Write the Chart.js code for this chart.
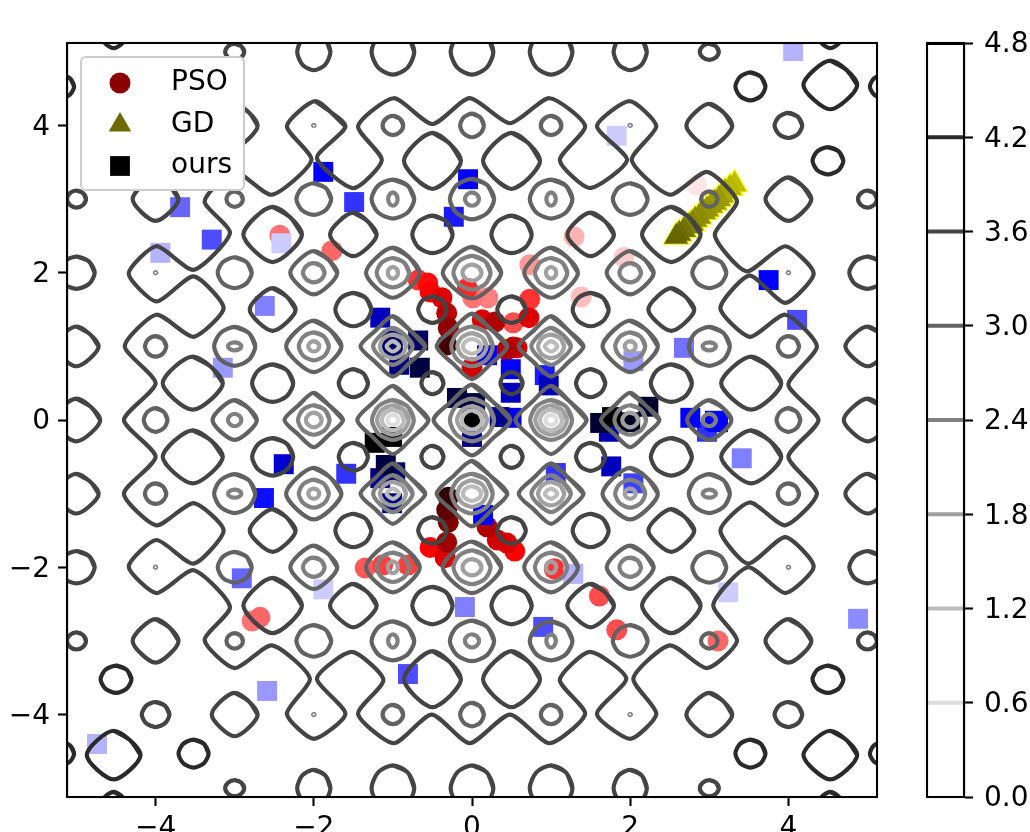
<!DOCTYPE html>
<html>
<head>
<meta charset="utf-8">
<style>
  html, body { margin: 0; background: #fff; overflow: hidden; }
  canvas { position: absolute; top: 0; }
  #main { left: 0; }
  #bar { left: 900px; }
</style>
<script src="https://cdn.jsdelivr.net/npm/chart.js@4/dist/chart.umd.min.js"></script>
</head>
<body>
<canvas id="main" width="900" height="832"></canvas>
<canvas id="bar" width="130" height="832"></canvas>
<script>
const axisMin = -5.12;
const axisMax = 5.12;
const xTicks = [-4, -2, 0, 2, 4];
const yTicks = [-4, -2, 0, 2, 4];
const barTicks = [0, 0.6, 1.2, 1.8, 2.4, 3.0, 3.6, 4.2, 4.8];
const barLevels = [0.6, 1.2, 1.8, 2.4, 3.0, 3.6, 4.2, 4.8];

const seriesNames = ['PSO', 'GD', 'ours'];

// shade: 0..1 goes white to full colour, 1..2 goes full colour to black
const psoX = [2.84, -2.43, -1.77, 1.29, 1.92, 0.73, 1.38, 0.73, -0.68, -0.56, -0.53, -0.38, -0.32, -0.3, -0.32,
  -0.06, 0.01, 0.2, 0.13, 0.29, 0.52, 0.72, 0.52, 0.44, 0.57, 0,
  -0.3, -0.32, -0.3, -0.32, -0.53, -0.34, -1.35, -1.13, -0.81, -2.78, -2.68,
  0.19, 0.32, 0.44, 0.54, 1.04, 1.61, 1.83, 3.11];
const psoY = [3.19, 2.51, 2.3, 2.49, 2.21, 2.11, 1.67, 1.64, 1.9, 1.86, 1.74, 1.66, 1.45, 1.25, 1.02,
  1.79, 1.66, 1.66, 1.36, 1.33, 1.32, 1.39, 0.99, 0.95, 0.98, 0.71,
  -1.05, -1.22, -1.39, -1.66, -1.73, -1.87, -2.01, -1.97, -1.97, -2.73, -2.68,
  -1.45, -1.63, -1.67, -1.78, -2.02, -2.39, -2.85, -3];
const psoShade = [0.1, 0.55, 0.6, 0.3, 0.2, 0.4, 0.25, 0.8, 0.8, 0.95, 1, 1.13, 1.25, 1.43, 1.75,
  0.85, 0.55, 0.5, 1.13, 1.31, 0.7, 1.13, 1.25, 1.31, 1.13, 1.18,
  1.8, 1.63, 1.5, 1.37, 1, 1.13, 0.65, 0.75, 0.75, 0.55, 0.6,
  1.31, 1.18, 1.13, 1, 0.8, 0.7, 0.7, 0.6];

const gdX = [3.32, 3.26, 3.2, 3.16, 3.12, 3.07, 3.02, 2.97, 2.93, 2.87, 2.82, 2.78, 2.74, 2.68, 2.62, 2.58];
const gdY = [3.2, 3.15, 3.1, 3.05, 3.0, 2.95, 2.91, 2.86, 2.82, 2.76, 2.72, 2.67, 2.63, 2.58, 2.53, 2.49];
const gdShade = [1.25, 1.28, 1.3, 1.35, 1.4, 1.4, 1.4, 1.42, 1.42, 1.45, 1.45, 1.48, 1.5, 1.55, 1.58, 1.6];

const oursX = [4.06, 1.83, -2.41, -3.94, -3.69, -3.29, -1.88, -1.49, -2.62, -3.15, -0.23, -0.05,
  -1.16, -1.01, -0.68, -0.92, -0.66, -1, 0.19, 0.49, 0.49, 0.92, 0.97, -0.19, 0.04, 0.35, 0.5, 0, 0,
  -1.23, -1.01, -1.09, -1.16, -0.97, -1.01, -1.59, 0.14, 1.06, -2.38, -2.63, -0.09, -2.91, -1.88, -0.81, -2.59, -4.74,
  3.41, 1.76, 2.04, 1.28, 0.9, 3.24, 4.88, 1.62, 1.73, 2.23, 1.77, 2, 2.76, 3.07, 3.11, 2.97, 3.75, 4.11, 2.68, 2.04];
const oursY = [5.01, 3.86, 2.4, 2.27, 2.89, 2.45, 3.37, 2.96, 1.55, 0.71, 2.76, 3.27,
  1.39, 1.08, 1.08, 0.75, 0.71, 0.99, 0.88, 0.69, 0.37, 0.61, 0.47, 0.3, 0.23, 0.04, 0.03, -0.23, 0,
  -0.31, -0.23, -0.61, -0.79, -0.71, -1.13, -0.73, -1.29, -0.72, -0.6, -1.06, -2.54, -2.15, -2.3, -3.45, -3.68, -4.4,
  -0.52, -0.63, -0.86, -2.09, -2.81, -2.34, -2.7, -0.04, -0.16, 0.18, 0.04, -0.03, 0.03, -0.01, -0.03, -0.16, 1.9, 1.36, 0.98, 0.8];
const oursShade = [0.3, 0.2, 0.2, 0.3, 0.6, 0.7, 1, 0.8, 0.5, 0.4, 0.9, 1,
  1.25, 1.5, 1.6, 1.5, 1.75, 1.6, 1, 1, 1.25, 0.9, 1.25, 1.75, 1.75, 1.45, 1, 1.5, 2,
  2, 2, 1.75, 1.45, 1.55, 1.5, 0.8, 1, 0.8, 1.18, 0.95, 0.5, 0.6, 0.2, 0.7, 0.4, 0.3,
  0.5, 1.25, 0.75, 0.3, 0.7, 0.2, 0.45, 1.8, 1.31, 1.8, 2, 1.87, 1, 1, 1, 0.8, 1, 0.7, 0.55, 0.4];

// outlines of the closed contours, read as offsets from a ring centre
const outlineRound = [[0, 1], [0.69, 0.69], [1, 0], [0.69, -0.69], [0, -1], [-0.69, -0.69], [-1, 0], [-0.69, 0.69]];
const outlineSoft = [[0, 1], [0.61, 0.61], [1, 0], [0.61, -0.61], [0, -1], [-0.61, -0.61], [-1, 0], [-0.61, 0.61]];
const outlineDiamond = [[0, 1], [0.53, 0.53], [1, 0], [0.53, -0.53], [0, -1], [-0.53, -0.53], [-1, 0], [-0.53, 0.53]];
const outlines = [outlineRound, outlineSoft, outlineDiamond];

// [ring centres x, ring centres y, half width, half height, outline]
const rings42 = [
  [[-3.52, 3.52], [-4.53, 4.53], 0.19, 0.19, 0],
  [[-4.5, 4.5], [-3.52, 3.52], 0.195, 0.185, 0],
  [[-5.2, 5.2], [-4.53, 4.53], 0.17, 0.16, 0],
  [[-4.53, 4.53], [-5.3, 5.3], 0.17, 0.25, 0],
  [[-4.53, 4.53], [-4.55, 4.55], 0.34, 0.33, 1]
];
const rings36 = [
  [[-2, 2], [-5, 5], 0.21, 0.25, 0],
  [[-1, 0, 1], [-5, 5], 0.27, 0.31, 0],
  [[-3, 3], [-5, 5], 0.12, 0.11, 0],
  [[-4, 4], [-4, 4], 0.175, 0.17, 0],
  [[-3, 3], [-4, 4], 0.29, 0.295, 1],
  [[-5, 5], [-3, 3], 0.12, 0.117, 0],
  [[-4, 4], [-3, 3], 0.29, 0.295, 1],
  [[-5, 5], [-2, 2], 0.23, 0.22, 0],
  [[-5, 5], [-1, 1], 0.28, 0.27, 1],
  [[-5, 5], [0], 0.3, 0.29, 1],
  [[-2.52, 2.52], [-2.52, 2.52], 0.37, 0.375, 1],
  [[-1.5, 1.5], [-2.52, 2.52], 0.295, 0.295, 1],
  [[-0.5, 0.5], [-2.52, 2.52], 0.255, 0.255, 0],
  [[-2.52, 2.52], [-1.5, 1.5], 0.29, 0.29, 1],
  [[-1.5, 1.5], [-1.5, 1.5], 0.228, 0.227, 0],
  [[-0.5, 0.5], [-1.5, 1.5], 0.18, 0.18, 0],
  [[-3.53, 3.53], [-0.5, 0.5], 0.38, 0.36, 1],
  [[-2.52, 2.52], [-0.5, 0.5], 0.26, 0.255, 0],
  [[-1.5, 1.5], [-0.5, 0.5], 0.185, 0.19, 0],
  [[-0.5, 0.5], [-0.5, 0.5], 0.14, 0.15, 0],
  [[-0.5, 0.5], [-3.52, 3.52], 0.36, 0.38, 1]
];
const rings30 = [
  [[-1, 1], [-4, 4], 0.13, 0.13, 0],
  [[0], [-4, 4], 0.15, 0.16, 0],
  [[-3, 3], [-3, 3], 0.105, 0.105, 0],
  [[-2, 2], [-3, 3], 0.22, 0.215, 0],
  [[-1, 1], [-3, 3], 0.27, 0.265, 0],
  [[0], [-3, 3], 0.28, 0.275, 0],
  [[-3, 3], [-2, 2], 0.215, 0.21, 0],
  [[-2, 2], [-2, 2], 0.297, 0.295, 1],
  [[-1, 1], [-2, 2], 0.34, 0.34, 1],
  [[0], [-2, 2], 0.37, 0.35, 1],
  [[-4, 4], [-1, 1], 0.135, 0.14, 0],
  [[-3, 3], [-1, 1], 0.26, 0.265, 0],
  [[-2, 2], [-1, 1], 0.35, 0.35, 1],
  [[-1, 1], [-1, 1], 0.41, 0.41, 2],
  [[0], [-1, 1], 0.447, 0.445, 2],
  [[-4, 4], [0], 0.15, 0.16, 0],
  [[-3, 3], [0], 0.28, 0.27, 1],
  [[-2, 2], [0], 0.37, 0.37, 2],
  [[-1, 1], [0], 0.45, 0.465, 2],
  [[0], [0], 0.485, 0.48, 2]
];
const rings24 = [
  [[-1, 1], [-3, 3], 0.06, 0.09, 0],
  [[0], [-3, 3], 0.09, 0.09, 0],
  [[-2, 2], [-2, 2], 0.137, 0.13, 0],
  [[-1, 1], [-2, 2], 0.205, 0.2, 0],
  [[0], [-2, 2], 0.235, 0.23, 0],
  [[-3, 3], [-1, 1], 0.085, 0.055, 0],
  [[-2, 2], [-1, 1], 0.19, 0.19, 0],
  [[-1, 1], [-1, 1], 0.25, 0.25, 1],
  [[0], [-1, 1], 0.263, 0.27, 0],
  [[-3, 3], [0], 0.085, 0.085, 0],
  [[-2, 2], [0], 0.2, 0.2, 0],
  [[-1, 1], [0], 0.265, 0.27, 0],
  [[0], [0], 0.28, 0.29, 0]
];
const rings18 = [
  [[-1, 1], [-2, 2], 0.065, 0.08, 0],
  [[0], [-2, 2], 0.12, 0.11, 0],
  [[-2, 2], [-1, 1], 0.07, 0.07, 0],
  [[-1, 1], [-1, 1], 0.165, 0.16, 0],
  [[0], [-1, 1], 0.185, 0.18, 0],
  [[-2, 2], [0], 0.1, 0.1, 0],
  [[-1, 1], [0], 0.2, 0.2, 0],
  [[0], [0], 0.19, 0.19, 0]
];
const rings12 = [
  [[-1, 1], [-1, 1], 0.08, 0.07, 1],
  [[0], [-1, 1], 0.115, 0.1, 0],
  [[-1, 1], [0], 0.14, 0.14, 0],
  [[0], [0], 0.13, 0.13, 0]
];
const rings06 = [
  [[-1, 1], [0], 0.07, 0.07, 0]
];
const ringsTiny = [
  [[-2, 2], [-4, 4], 0.025, 0.025, 0],
  [[-4, 4], [-2, 2], 0.025, 0.025, 0]
];

// the one long contour that winds around the middle of the plot
const outerContour = [
  [-1.98, 4.33], [-1.6, 3.99], [-1.96, 3.56], [-1.5, 3.15], [-1.14, 3.53], [-1.44, 3.99], [-0.99, 4.37], [-0.5, 4.02],
  [-0.03, 4.37], [0.48, 4.03], [0.98, 4.37], [1.43, 3.99], [1.11, 3.53], [1.49, 3.15], [1.96, 3.53], [1.58, 3.99],
  [1.99, 4.33], [2.33, 3.99], [2.02, 3.53], [2.5, 3.06], [2.97, 3.37], [3.35, 2.97], [3.07, 2.51], [3.47, 2.02],
  [3.96, 2.36], [4.32, 1.99], [3.96, 1.59], [3.51, 1.96], [3.14, 1.52], [3.51, 1.13], [3.96, 1.43], [4.36, 1],
  [4, 0.48], [4.38, 0], [4, -0.5], [4.36, -1], [3.96, -1.43], [3.51, -1.12], [3.14, -1.5], [3.49, -1.95],
  [3.96, -1.59], [4.32, -1.99], [3.96, -2.35], [3.49, -2], [3.05, -2.51], [3.35, -3], [2.97, -3.37], [2.5, -3.06],
  [2.04, -3.51], [2.33, -3.99], [2, -4.33], [1.58, -3.99], [1.95, -3.51], [1.49, -3.15], [1.11, -3.53], [1.43, -3.99],
  [0.98, -4.39], [0.48, -4], [-0.03, -4.39], [-0.51, -4], [-0.99, -4.39], [-1.44, -3.99], [-1.12, -3.53], [-1.52, -3.15],
  [-1.96, -3.51], [-1.6, -3.99], [-2, -4.33], [-2.34, -3.99], [-2.05, -3.51], [-2.53, -3.06], [-3, -3.37], [-3.38, -2.99],
  [-3.06, -2.54], [-3.52, -2.04], [-3.99, -2.35], [-4.34, -1.99], [-3.99, -1.63], [-3.52, -1.95], [-3.14, -1.5], [-3.52, -1.13],
  [-3.99, -1.43], [-4.4, -1], [-4, -0.5], [-4.4, 0], [-4, 0.5], [-4.39, 1], [-3.99, 1.43], [-3.52, 1.13],
  [-3.14, 1.52], [-3.52, 1.95], [-3.99, 1.61], [-4.34, 1.99], [-3.99, 2.36], [-3.52, 2.04], [-3.06, 2.54], [-3.38, 2.97],
  [-3, 3.37], [-2.53, 3.06], [-2.03, 3.53], [-2.34, 3.99], [-1.98, 4.33], [-1.6, 3.99]
];

const levelGrey = { 0.6: '#dddddd', 1.2: '#bbbbbb', 1.8: '#a0a0a0', 2.4: '#808080', 3.0: '#626262', 3.6: '#444444', 4.2: '#2a2a2a', 4.8: '#000000' };
const tickFont = { family: 'DejaVu Sans', size: 28 };
const contourWidth = 4.2;

function mix(base, shade) {
  // white -> base -> black
  const c = base.map(v => shade <= 1 ? 255 + (v - 255) * shade : v * (2 - shade));
  return 'rgb(' + c.map(Math.round).join(',') + ')';
}

function markerSet(xs, ys, shades, base, style, radius, order) {
  const idx = xs.map((_, i) => i).sort((a, b) => shades[a] - shades[b]);
  const col = idx.map(i => mix(base, shades[i]));
  return {
    data: idx.map(i => ({ x: xs[i], y: ys[i] })),
    showLine: false, pointStyle: style, pointRadius: radius, pointHoverRadius: radius,
    pointBackgroundColor: col, pointBorderWidth: 0, order: order
  };
}

function contourSet(points, colour, width, tension) {
  return {
    data: points.map(p => ({ x: p[0], y: p[1] })),
    showLine: true, pointRadius: 0, borderColor: colour, borderWidth: width,
    tension: tension, fill: false, order: 0
  };
}

function ringSets(list, colour, width) {
  const out = [];
  list.forEach(r => {
    r[0].forEach(cx => r[1].forEach(cy => {
      const shape = outlines[r[4]];
      const pts = shape.concat(shape.slice(0, 3)).map(o => [cx + o[0] * r[2], cy + o[1] * r[3]]);
      out.push(contourSet(pts, colour, width, 0.28));
    }));
  });
  return out;
}

const minusTick = v => String(v).replace('-', '\u2212');

const framePlugin = {
  id: 'frame',
  afterDatasetsDraw(chart) {
    const a = chart.chartArea, ctx = chart.ctx;
    ctx.save();
    ctx.strokeStyle = '#000';
    ctx.lineWidth = 2.1;
    ctx.strokeRect(a.left, a.top, a.right - a.left, a.bottom - a.top);
    ctx.restore();
  }
};

const legendPlugin = {
  id: 'boxLegend',
  afterDraw(chart) {
    const ctx = chart.ctx;
    ctx.save();
    ctx.fillStyle = '#fff';
    ctx.strokeStyle = '#cccccc';
    ctx.lineWidth = 2.1;
    ctx.beginPath();
    ctx.roundRect(81, 57, 163, 133, 5);
    ctx.fill();
    ctx.stroke();
    const ys = [83, 125, 166];
    const styles = [['circle', 10.5, '#8b0000'], ['triangle', 13, '#6b6b00'], ['rect', 14, '#000000']];
    seriesNames.forEach((name, i) => {
      ctx.fillStyle = styles[i][2];
      Chart.helpers.drawPoint(ctx, { pointStyle: styles[i][0], radius: styles[i][1], borderWidth: 0 }, 120, ys[i]);
      ctx.fillStyle = '#000';
      ctx.font = '28px "DejaVu Sans"';
      ctx.textBaseline = 'middle';
      ctx.fillText(name, 171, ys[i]);
    });
    ctx.restore();
  }
};

const mainSets = [
  contourSet(outerContour, levelGrey[3.6], contourWidth, 0.22)
].concat(
  ringSets(rings42, levelGrey[4.2], contourWidth),
  ringSets(rings36, levelGrey[3.6], contourWidth),
  ringSets(rings30, levelGrey[3.0], contourWidth),
  ringSets(rings24, levelGrey[2.4], contourWidth),
  ringSets(rings18, levelGrey[1.8], contourWidth),
  ringSets(rings12, levelGrey[1.2], contourWidth),
  ringSets(rings06, levelGrey[0.6], contourWidth),
  ringSets(ringsTiny, levelGrey[2.4], 1.6),
  [
    markerSet(oursX, oursY, oursShade, [0, 0, 255], 'rect', 14.1, 1),
    markerSet(gdX, gdY, gdShade, [255, 255, 0], 'triangle', 14, 2),
    markerSet(gdX, gdY, gdX.map(() => 1), [255, 255, 0], 'triangle', 16, 3),
    markerSet(psoX, psoY, psoShade, [255, 0, 0], 'circle', 10.5, 4)
  ]
);

new Chart(document.getElementById('main'), {
  type: 'scatter',
  data: { datasets: mainSets },
  options: {
    responsive: false,
    animation: false,
    layout: { padding: { left: 0, top: 43, right: 23, bottom: 0 } },
    plugins: { legend: { display: false }, tooltip: { enabled: false } },
    scales: {
      x: {
        type: 'linear', min: axisMin, max: axisMax,
        afterBuildTicks: s => { s.ticks = xTicks.map(v => ({ value: v })); },
        afterFit: s => { s.height = 35; },
        border: { color: '#000', width: 2.1 },
        grid: { drawOnChartArea: false, tickLength: 9, tickColor: '#000', tickWidth: 2.1 },
        ticks: { color: '#000', font: tickFont, padding: 6, maxRotation: 0, callback: minusTick }
      },
      y: {
        type: 'linear', min: axisMin, max: axisMax,
        afterBuildTicks: s => { s.ticks = yTicks.map(v => ({ value: v })); },
        afterFit: s => { s.width = 67; },
        border: { color: '#000', width: 2.1 },
        grid: { drawOnChartArea: false, tickLength: 9, tickColor: '#000', tickWidth: 2.1 },
        ticks: { color: '#000', font: tickFont, padding: 8, labelOffset: 2, callback: minusTick }
      }
    }
  },
  plugins: [framePlugin, legendPlugin]
});

new Chart(document.getElementById('bar'), {
  type: 'scatter',
  data: {
    datasets: barLevels.map(v => ({
      data: [{ x: 0, y: v }, { x: 1, y: v }],
      showLine: true, pointRadius: 0, borderColor: levelGrey[v], borderWidth: contourWidth
    }))
  },
  options: {
    responsive: false,
    animation: false,
    layout: { padding: { left: 27, top: 43, right: 0, bottom: 35 } },
    plugins: { legend: { display: false }, tooltip: { enabled: false } },
    scales: {
      x: { type: 'linear', min: 0, max: 1, display: false },
      y: {
        type: 'linear', position: 'right', min: 0, max: 4.8,
        afterBuildTicks: s => { s.ticks = barTicks.map(v => ({ value: v })); },
        afterFit: s => { s.width = 66; },
        border: { color: '#000', width: 2.1 },
        grid: { drawOnChartArea: false, tickLength: 9, tickColor: '#000', tickWidth: 2.1 },
        ticks: { color: '#000', font: tickFont, padding: 11, labelOffset: 2, callback: v => v.toFixed(1) }
      }
    }
  },
  plugins: [framePlugin]
});
</script>
</body>
</html>
